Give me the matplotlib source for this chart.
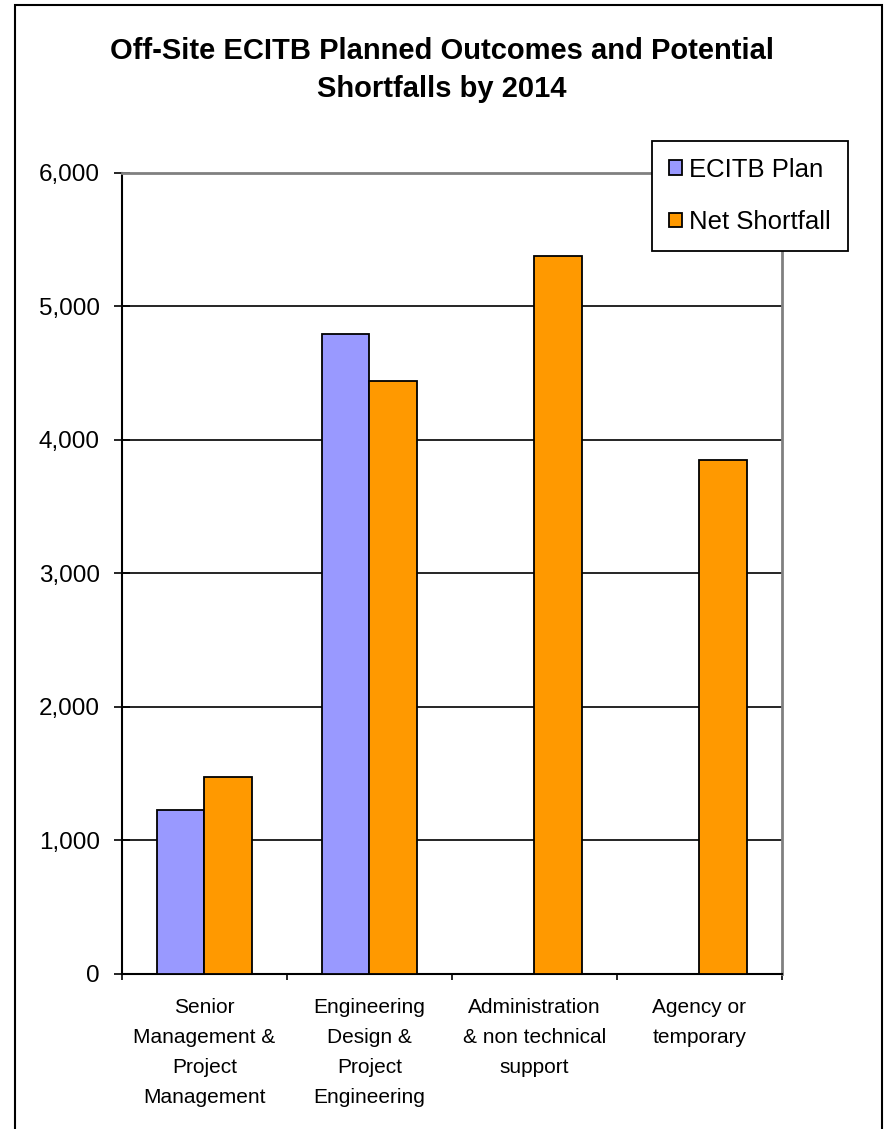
import numpy as np
import matplotlib
matplotlib.use("Agg")
import matplotlib.pyplot as plt
from matplotlib.patches import Rectangle

categories = ["Senior\nManagement &\nProject\nManagement",
              "Engineering\nDesign &\nProject\nEngineering",
              "Administration\n& non technical\nsupport",
              "Agency or\ntemporary"]
ecitb_plan = [1230, 4795, 0, 0]
net_shortfall = [1475, 4440, 5380, 3850]
series_names = ["ECITB Plan", "Net Shortfall"]

plt.rcParams['font.family'] = ['Liberation Sans', 'DejaVu Sans']

fig = plt.figure(figsize=(8.84, 11.29), dpi=100)
ax = fig.add_axes([0.138, 0.1373, 0.7466, 0.7095])

x = np.arange(len(categories))
w = 0.288
ax.bar(x - w / 2, ecitb_plan, w, color="#9999FF", edgecolor="black", linewidth=1.3,
       label=series_names[0], zorder=3)
ax.bar(x + w / 2, net_shortfall, w, color="#FF9900", edgecolor="black", linewidth=1.3,
       label=series_names[1], zorder=3)

ax.set_xlim(-0.5, len(categories) - 0.5)
ax.set_ylim(0, 6000)
ax.set_yticks(range(0, 6001, 1000))
ax.set_yticklabels([f"{v:,}" for v in range(0, 6001, 1000)], fontsize=17.5)
for v in range(1000, 6000, 1000):
    ax.axhline(v, color="black", linewidth=1.2, zorder=1)

ax.set_xticks(np.arange(-0.5, len(categories), 1.0))
ax.set_xticklabels([])
ax.set_xticks(x, minor=True)
ax.set_xticklabels(categories, minor=True, fontsize=15, linespacing=1.75)
ax.tick_params(axis="x", which="minor", length=0, pad=17)
ax.tick_params(axis="x", which="major", length=4, width=1.2, direction="out")
ax.tick_params(axis="y", length=12, width=1.2, direction="inout", pad=10)

ax.spines["left"].set_color("black")
ax.spines["left"].set_linewidth(1.5)
ax.spines["bottom"].set_color("black")
ax.spines["bottom"].set_linewidth(1.5)
ax.spines["top"].set_color("#808080")
ax.spines["top"].set_linewidth(2)
ax.spines["right"].set_color("#808080")
ax.spines["right"].set_linewidth(2)

fig.text(0.5, 0.967, "Off-Site ECITB Planned Outcomes and Potential\nShortfalls by 2014",
         ha="center", va="top", fontsize=21, fontweight="bold", linespacing=1.45)

leg = fig.legend(loc="upper left", bbox_to_anchor=(0.7376, 0.875), fontsize=18.5,
                 frameon=True, fancybox=False, handlelength=0.5, handleheight=0.5,
                 handletextpad=0.3, labelspacing=1.1, borderpad=0.65, borderaxespad=0)
leg.get_frame().set_edgecolor("black")
leg.get_frame().set_linewidth(1.3)
leg.get_frame().set_alpha(1)

fig.patches.append(Rectangle((0.017, -0.01), 0.981, 1.0056, transform=fig.transFigure,
                             fill=False, edgecolor="black", linewidth=1.5))

fig.savefig("out.png", dpi=100)
